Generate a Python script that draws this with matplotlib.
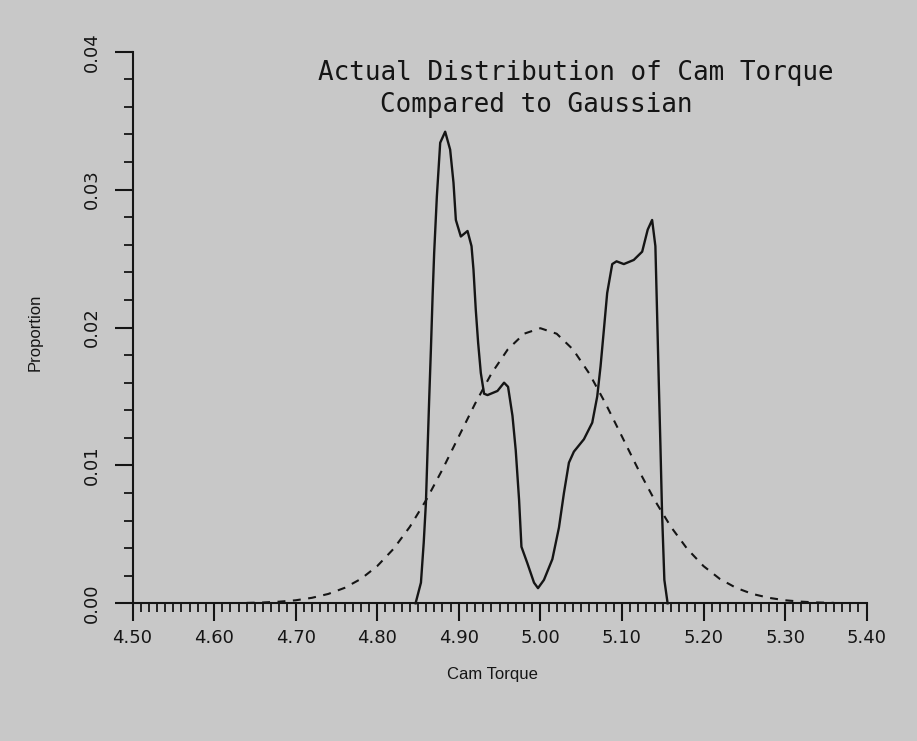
import matplotlib
matplotlib.use("Agg")
import matplotlib.pyplot as plt
from matplotlib.ticker import MultipleLocator, FixedLocator

# Observed distribution of cam torque (proportion per 0.005 bin)
torque = [4.847, 4.8536, 4.857, 4.8597, 4.8617, 4.8637, 4.8658, 4.8679, 4.8698, 4.8731,
          4.8772, 4.8833, 4.8894, 4.8935, 4.8964, 4.9025, 4.9107, 4.9156, 4.918, 4.9208,
          4.9237, 4.927, 4.931, 4.9352, 4.9474, 4.9555, 4.9604, 4.9658, 4.9698, 4.9739,
          4.9768, 4.9841, 4.9922, 4.9971, 5.0044, 5.0147, 5.0228, 5.0289, 5.035, 5.0411,
          5.0534, 5.0636, 5.0697, 5.0738, 5.0778, 5.0819, 5.0881, 5.0934, 5.1023, 5.1145,
          5.1248, 5.1316, 5.137, 5.141, 5.1431, 5.1451, 5.1472, 5.1492, 5.152, 5.156]
actual = [0.0, 0.0015, 0.0044, 0.0073, 0.0111, 0.0148, 0.0184, 0.0223, 0.0254, 0.0295,
          0.0334, 0.0342, 0.0329, 0.0305, 0.0278, 0.0266, 0.0270, 0.0259, 0.0242, 0.0213,
          0.0189, 0.0167, 0.0152, 0.0151, 0.0154, 0.0160, 0.0157, 0.0136, 0.0111, 0.0075,
          0.0041, 0.0029, 0.0015, 0.0011, 0.0017, 0.0032, 0.0055, 0.0080, 0.0102, 0.0110,
          0.0119, 0.0131, 0.0150, 0.0172, 0.0198, 0.0225, 0.0246, 0.0248, 0.0246, 0.0249,
          0.0255, 0.0271, 0.0278, 0.0259, 0.0210, 0.0162, 0.0114, 0.0065, 0.0017, 0.0]

# Reference Gaussian curve
gauss_x = [4.64, 4.66, 4.68, 4.70, 4.72, 4.74, 4.76, 4.78, 4.80, 4.82, 4.84, 4.86, 4.88,
           4.90, 4.92, 4.94, 4.96, 4.98, 5.00, 5.02, 5.04, 5.06, 5.08, 5.10, 5.12, 5.14,
           5.16, 5.18, 5.20, 5.22, 5.24, 5.26, 5.28, 5.30, 5.32, 5.34, 5.36]
gauss_y = [0.00003, 0.00006, 0.00012, 0.00022, 0.00040, 0.00068, 0.00112, 0.00177,
           0.00270, 0.00395, 0.00555, 0.00749, 0.00971, 0.01210, 0.01448, 0.01666,
           0.01841, 0.01955, 0.01995, 0.01955, 0.01841, 0.01666, 0.01448, 0.01210,
           0.00971, 0.00749, 0.00555, 0.00395, 0.00270, 0.00177, 0.00112, 0.00068,
           0.00040, 0.00022, 0.00012, 0.00006, 0.00003]

x_ticks = [4.50, 4.60, 4.70, 4.80, 4.90, 5.00, 5.10, 5.20, 5.30, 5.40]
y_ticks = [0.00, 0.01, 0.02, 0.03, 0.04]

title_line1 = "Actual Distribution of Cam Torque"
title_line2 = "Compared to Gaussian"
x_label = "Cam Torque"
y_label = "Proportion"

bg = "#c8c8c8"
ink = "#151515"

fig = plt.figure(figsize=(9.17, 7.41), dpi=100, facecolor=bg)
ax = fig.add_axes([0.1445, 0.1858, 0.8006, 0.7444])
ax.set_facecolor(bg)

ax.plot(torque, actual, color=ink, lw=1.7, solid_joinstyle="round", clip_on=False)
ax.plot(gauss_x, gauss_y, color=ink, lw=1.5, linestyle=(0, (3.8, 3.6)), clip_on=False)

ax.set_xlim(4.50, 5.40)
ax.set_ylim(0.0, 0.04)

for side in ("top", "right"):
    ax.spines[side].set_visible(False)
for side in ("left", "bottom"):
    ax.spines[side].set_linewidth(1.5)
    ax.spines[side].set_color(ink)

ax.xaxis.set_major_locator(FixedLocator(x_ticks))
ax.xaxis.set_minor_locator(MultipleLocator(0.01))
ax.yaxis.set_major_locator(FixedLocator(y_ticks))
ax.yaxis.set_minor_locator(MultipleLocator(0.002))
ax.set_xticklabels([f"{v:.2f}" for v in x_ticks])
ax.set_yticklabels([f"{v:.2f}" for v in y_ticks], rotation=90, va="center")

ax.tick_params(which="major", direction="out", length=12.7, width=1.5, color=ink,
               labelsize=13, labelcolor=ink)
ax.tick_params(which="minor", direction="out", length=6.5, width=1.3, color=ink)
ax.tick_params(axis="x", which="major", pad=6)
ax.tick_params(axis="y", which="major", pad=10)

fig.text(318 / 917, 1 - 73 / 741, title_line1, ha="left", va="center",
         fontsize=18.7, color=ink, family="DejaVu Sans Mono")
fig.text(380 / 917, 1 - 105 / 741, title_line2, ha="left", va="center",
         fontsize=18.7, color=ink, family="DejaVu Sans Mono")

fig.text(492 / 917, 1 - 674 / 741, x_label, ha="center", va="center",
         fontsize=12, color=ink, family="Liberation Sans")
fig.text(35 / 917, 1 - 332 / 741, y_label, ha="center", va="center", rotation=90,
         fontsize=12, color=ink, family="Liberation Sans")

fig.savefig("out.png", dpi=100, facecolor=bg)
